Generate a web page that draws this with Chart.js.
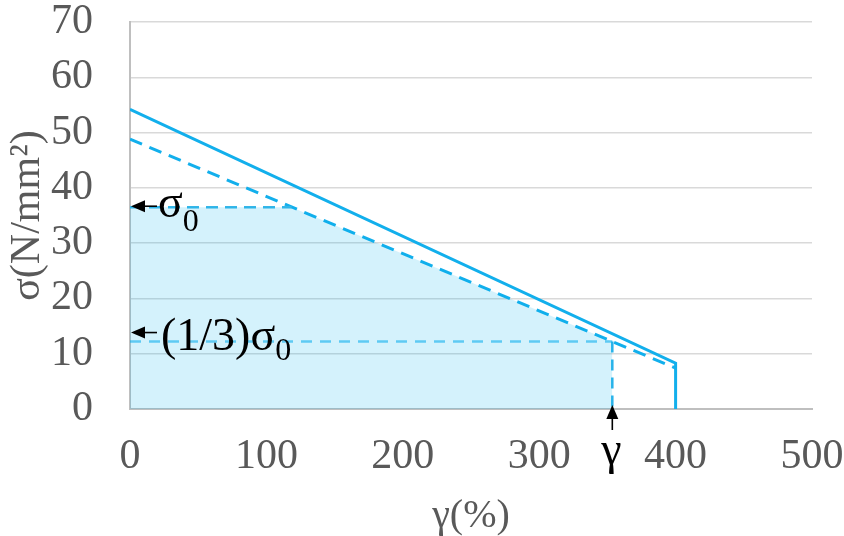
<!DOCTYPE html>
<html>
<head>
<meta charset="utf-8">
<script src="https://cdn.jsdelivr.net/npm/chart.js@4.4.1/dist/chart.umd.min.js"></script>
<style>
  html, body { margin: 0; padding: 0; background: #fff; }
  #wrap { width: 844px; height: 536px; position: relative; }
</style>
</head>
<body>
<div id="wrap"><canvas id="chart"></canvas></div>
<script>
const xTicks = [0, 100, 200, 300, 400, 500];
const yTicks = [0, 10, 20, 30, 40, 50, 60, 70];

// outer solid line (with drop at 400%)
const solidX = [0, 400, 400];
const solidY = [54.2, 8.3, 0];

// dashed line
const dashX = [0, 400];
const dashY = [48.8, 7.4];

// shaded region: sigma0 plateau then down along the dashed line to (1/3)sigma0
const sigma0 = 36.5;
const thirdSigma0 = 12.2;
const gammaAt = 353.6;
const fillX = [0, 118.5, gammaAt];
const fillY = [sigma0, sigma0, thirdSigma0];

const sigma0LineX = [0, 118.5];
const sigma0LineY = [sigma0, sigma0];
const thirdLineX = [0, gammaAt];
const thirdLineY = [thirdSigma0, thirdSigma0];
const gammaLineX = [gammaAt, gammaAt];
const gammaLineY = [thirdSigma0, 0];

const blue = "#12afec";
const serif = "'Liberation Serif', 'Times New Roman', serif";

function pts(xs, ys) {
  return xs.map((x, i) => ({ x, y: ys[i] }));
}

function lineSet(xs, ys, color, width, dash, extra = {}) {
  return Object.assign({
    data: pts(xs, ys),
    showLine: true,
    borderColor: color,
    borderWidth: width,
    borderDash: dash,
    pointRadius: 0,
    fill: false,
    tension: 0,
  }, extra);
}

function arrow(ctx, x1, y1, x2, y2) {
  // tail (x1,y1) -> tip (x2,y2)
  const ang = Math.atan2(y2 - y1, x2 - x1);
  const len = 14, half = 6;
  const bx = x2 - Math.cos(ang) * len;
  const by = y2 - Math.sin(ang) * len;
  ctx.strokeStyle = "#000";
  ctx.lineWidth = 1.6;
  ctx.beginPath();
  ctx.moveTo(x1, y1);
  ctx.lineTo(bx, by);
  ctx.stroke();
  ctx.fillStyle = "#000";
  ctx.beginPath();
  ctx.moveTo(x2, y2);
  ctx.lineTo(bx - Math.sin(ang) * half, by + Math.cos(ang) * half);
  ctx.lineTo(bx + Math.sin(ang) * half, by - Math.cos(ang) * half);
  ctx.closePath();
  ctx.fill();
}

const notes = {
  id: "notes",
  afterDatasetsDraw(chart) {
    const { ctx, scales } = chart;
    const xs = scales.x, ys = scales.y;
    const x0 = xs.getPixelForValue(0);
    ctx.save();
    ctx.textAlign = "left";
    ctx.textBaseline = "alphabetic";
    ctx.fillStyle = "#000";

    // sigma0
    let y = ys.getPixelForValue(sigma0) - 1;
    arrow(ctx, x0 + 27, y, x0 + 1, y);
    ctx.font = `46px ${serif}`;
    ctx.fillText("σ", x0 + 28, y + 11);
    let w = ctx.measureText("σ").width;
    ctx.font = `32px ${serif}`;
    ctx.fillText("0", x0 + 28 + w, y + 25);

    // (1/3)sigma0
    y = ys.getPixelForValue(thirdSigma0) - 9;
    arrow(ctx, x0 + 27, y, x0 + 1, y);
    ctx.font = `46px ${serif}`;
    ctx.fillText("(1/3)σ", x0 + 31, y + 17);
    w = ctx.measureText("(1/3)σ").width;
    ctx.font = `32px ${serif}`;
    ctx.fillText("0", x0 + 31 + w, y + 27);

    // gamma
    const gx = xs.getPixelForValue(gammaAt);
    const yb = ys.getPixelForValue(0);
    arrow(ctx, gx, yb + 21, gx, yb - 4);
    ctx.font = `46px ${serif}`;
    ctx.textAlign = "center";
    ctx.fillText("γ", gx - 1, yb + 55);
    ctx.restore();
  },
};

new Chart(document.getElementById("chart"), {
  type: "scatter",
  data: {
    datasets: [
      lineSet(fillX, fillY, "rgba(0,0,0,0)", 0, [], {
        fill: "origin",
        backgroundColor: "rgba(0, 176, 240, 0.17)",
      }),
      lineSet(thirdLineX, thirdLineY, "rgba(18, 175, 236, 0.6)", 2.5, [11, 8]),
      lineSet(sigma0LineX, sigma0LineY, "#35b6e8", 2.5, [12, 7]),
      lineSet(gammaLineX, gammaLineY, "#2ab3ea", 2.5, [11, 7]),
      lineSet(dashX, dashY, blue, 3, [13, 8]),
      lineSet(solidX, solidY, blue, 3, []),
    ],
  },
  options: {
    responsive: true,
    maintainAspectRatio: false,
    animation: false,
    events: [],
    layout: { padding: { top: 22, right: 32, left: 0, bottom: 0 } },
    plugins: {
      legend: { display: false },
      tooltip: { enabled: false },
    },
    scales: {
      x: {
        type: "linear",
        min: xTicks[0],
        max: xTicks[xTicks.length - 1],
        afterBuildTicks(scale) {
          scale.ticks = xTicks.map((v) => ({ value: v }));
        },
        afterFit(scale) {
          scale.height = 127;
          scale.paddingLeft = 0;
          scale.paddingRight = 0;
        },
        grid: { display: false, drawTicks: false },
        border: { display: true, color: "#bfbfbf", width: 2 },
        ticks: {
          padding: 23,
          color: "#595959",
          font: { family: serif, size: 42 },
        },
        title: {
          display: true,
          text: "γ(%)",
          color: "#595959",
          font: { family: serif, size: 40, lineHeight: 1 },
          padding: 0,
        },
      },
      y: {
        type: "linear",
        min: yTicks[0],
        max: yTicks[yTicks.length - 1],
        afterBuildTicks(scale) {
          scale.ticks = yTicks.map((v) => ({ value: v }));
        },
        afterFit(scale) {
          scale.width = 130;
          scale.paddingTop = 0;
          scale.paddingBottom = 0;
        },
        grid: { color: "#d9d9d9", lineWidth: 1.5, drawTicks: false },
        border: { display: true, color: "#bfbfbf", width: 2 },
        ticks: {
          padding: 37,
          color: "#595959",
          font: { family: serif, size: 42 },
        },
        title: {
          display: true,
          text: "σ(N/mm²)",
          color: "#595959",
          font: { family: serif, size: 42, lineHeight: 1 },
          padding: { top: 7, bottom: 0 },
        },
      },
    },
  },
  plugins: [notes],
});
</script>
</body>
</html>
